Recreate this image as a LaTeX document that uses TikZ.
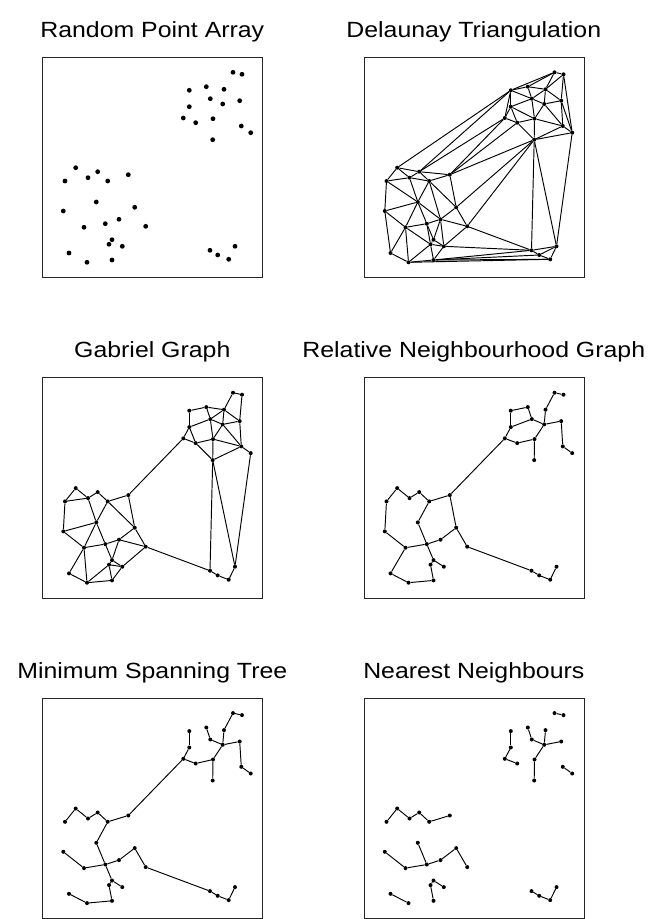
\documentclass[tikz,border=0pt]{standalone}
\usepackage{fontspec}
\newfontfamily\titlefont[FakeStretch=1.13]{Liberation Sans}
\tikzset{
  pt/.style={circle, fill=black, inner sep=0pt, minimum size=4pt},
  bigpt/.style={circle, fill=black, inner sep=0pt, minimum size=4.8pt},
  panelbox/.style={draw=black!85, line width=0.9pt, minimum width=220pt, minimum height=220.6pt, inner sep=0pt, anchor=north west},
  link/.style={draw=black, line width=0.95pt},
  paneltitle/.style={font=\titlefont\fontsize{22}{26}\selectfont, anchor=base, inner sep=0pt},
}
\newcommand\ptlist{1/233.0/72.3,2/242.0/74.3,3/189.3/90.3,4/206.3/86.7,5/224.0/89.3,6/210.3/98.7,7/222.7/104.0,8/239.7/100.7,9/189.3/106.7,10/183.3/118.0,11/195.7/122.7,12/213.0/118.7,13/241.3/126.0,14/250.7/132.7,15/212.7/139.7,16/75.7/167.7,17/97.7/171.7,18/88.0/177.7,19/65.0/181.0,20/107.7/181.0,21/128.3/174.7,22/96.3/202.0,23/134.7/207.3,24/63.3/211.0,25/119.0/219.3,26/105.3/223.7,27/84.0/227.3,28/145.7/226.3,29/112.0/239.7,30/109.0/244.3,31/122.3/246.3,32/69.0/253.0,33/87.0/262.3,34/112.0/260.0,35/210.0/250.3,36/217.7/255.0,37/235.0/246.3,38/228.7/259.3}
\newcommand\placepts[2]{\foreach \i/\px/\py in \ptlist {\node[#2] (#1\i) at (\px,\py) {};}}
\newcommand\drawlinks[2]{\foreach \u/\v in {#2} {\draw[link] (#1\u) -- (#1\v);}}
\begin{document}
\begin{tikzpicture}[x=1pt,y=-1pt]
\useasboundingbox (0,0) rectangle (657,919);
% Panel A: random points
\begin{scope}
\node[panelbox] (boxA) at (42.3,56.7) {};
\node[paneltitle] (titleA) at (152.3,37.3) {Random Point Array};
\placepts{a}{bigpt}
\end{scope}
% Panel B: Delaunay
\begin{scope}[shift={(321.5,0)}]
\node[panelbox] (boxB) at (42.3,56.7) {};
\node[paneltitle] (titleB) at (152.3,37.3) {Delaunay Triangulation};
\placepts{b}{pt}
\drawlinks{b}{16/19,16/18,16/17,17/18,17/20,18/19,18/20,18/22,19/22,19/24,20/21,20/22,20/23,20/25,21/23,22/24,22/27,22/26,22/25,24/27,26/27,25/26,23/25,23/28,25/28,25/31,25/29,26/29,26/30,27/30,29/30,29/31,30/31,30/34,30/33,31/34,27/32,27/33,32/33,33/34,28/31,24/32,1/2,1/5,1/4,1/3,2/5,2/8,2/14,3/4,3/6,3/9,3/10,4/5,4/6,5/6,5/7,5/8,6/7,6/9,6/12,7/8,7/12,7/13,8/13,8/14,9/10,9/11,9/12,10/11,11/12,11/15,12/13,12/15,13/14,13/15,14/15,16/3,17/3,17/10,17/21,21/10,21/11,21/15,23/15,28/15,15/35,15/37,14/37,28/35,31/35,34/35,34/36,34/38,33/38,35/36,35/37,36/37,36/38,37/38}
\end{scope}
% Panel C: Gabriel
\begin{scope}[shift={(0,320.4)}]
\node[panelbox] (boxC) at (42.3,56.7) {};
\node[paneltitle] (titleC) at (152.3,37.3) {Gabriel Graph};
\placepts{c}{pt}
\drawlinks{c}{1/2,1/5,2/8,3/4,4/5,3/9,4/6,6/9,5/6,5/8,6/7,7/8,5/7,6/12,7/12,7/13,8/13,9/10,9/11,10/11,11/12,12/13,11/15,12/15,13/15,13/14,10/21,15/35,15/37,14/37,28/35,35/36,36/38,37/38,16/19,16/18,18/19,17/18,17/20,20/21,18/22,20/22,20/23,21/23,19/24,22/24,24/27,22/27,22/26,26/27,25/26,23/25,23/28,25/28,25/29,26/29,29/30,29/31,30/31,30/34,31/34,27/32,27/33,32/33,30/33,33/34,28/31}
\end{scope}
% Panel D: Relative neighbourhood graph
\begin{scope}[shift={(321.5,320.4)}]
\node[panelbox] (boxD) at (42.3,56.7) {};
\node[paneltitle] (titleD) at (152.3,37.3) {Relative Neighbourhood Graph};
\placepts{d}{pt}
\drawlinks{d}{1/2,1/5,5/7,3/4,4/6,3/9,6/9,6/7,7/8,8/13,13/14,7/12,12/15,11/12,10/11,9/10,10/21,16/19,16/18,17/18,17/20,20/21,20/22,21/23,19/24,24/27,22/26,26/27,25/26,23/25,23/28,26/29,29/31,29/30,30/34,27/32,32/33,33/34,28/35,35/36,36/38,37/38}
\end{scope}
% Panel E: Minimum spanning tree
\begin{scope}[shift={(0,640.8)}]
\node[panelbox] (boxE) at (42.3,56.7) {};
\node[paneltitle] (titleE) at (152.3,37.3) {Minimum Spanning Tree};
\placepts{e}{pt}
\drawlinks{e}{1/2,1/5,5/7,4/6,6/7,7/8,8/13,13/14,7/12,12/15,11/12,10/11,9/10,3/9,10/21,16/19,16/18,17/18,17/20,20/21,20/22,22/26,24/27,26/27,25/26,23/25,23/28,26/29,29/31,29/30,30/34,32/33,33/34,28/35,35/36,36/38,37/38}
\end{scope}
% Panel F: Nearest neighbours
\begin{scope}[shift={(321.5,640.8)}]
\node[panelbox] (boxF) at (42.3,56.7) {};
\node[paneltitle] (titleF) at (152.3,37.3) {Nearest Neighbours};
\placepts{f}{pt}
\drawlinks{f}{1/2,3/9,4/6,5/7,6/7,7/8,9/10,10/11,7/12,12/15,13/14,16/18,16/19,17/18,17/20,20/21,22/26,23/25,23/28,24/27,25/26,26/27,29/30,29/31,30/34,32/33,35/36,36/38,37/38}
\end{scope}
\end{tikzpicture}
\end{document}
